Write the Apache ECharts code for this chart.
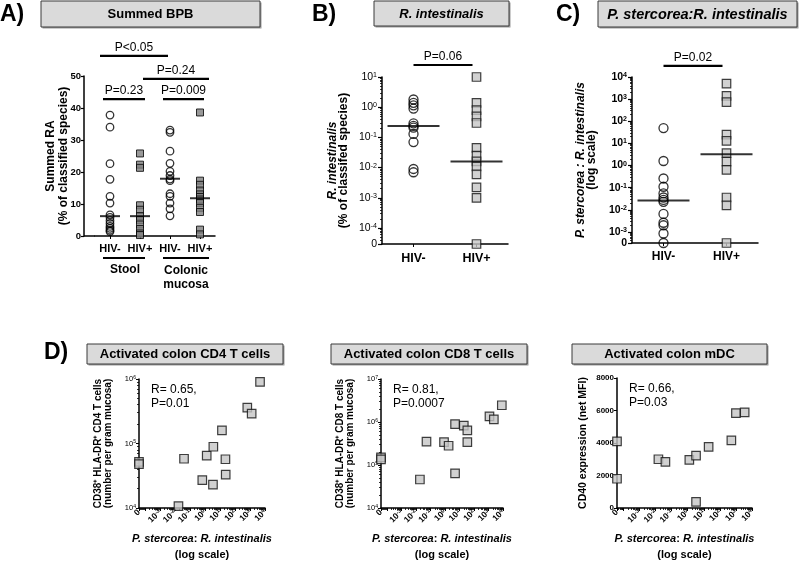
<!DOCTYPE html>
<html><head><meta charset="utf-8">
<script src="https://cdn.jsdelivr.net/npm/echarts@6/dist/echarts.min.js"></script>
<style>html,body{margin:0;padding:0;background:#fff}#c{width:800px;height:564px}</style>
</head><body><div id="c"></div>
<script>
// ---------------- data ----------------
const groupsA = ['HIV-', 'HIV+', 'HIV-', 'HIV+'];
const stoolNeg = [37.8, 34.0, 22.6, 17.7, 12.4, 10.3, 6.6, 5.8, 4.8, 3.9, 3.0, 2.4, 1.8, 1.4];
const stoolPos = [25.8, 22.3, 21.3, 9.6, 8.2, 6.2, 5.0, 3.6, 2.2, 0.8, 0.3];
const mucosaNeg = [33.1, 32.4, 26.5, 22.7, 20.2, 18.9, 17.8, 17.3, 13.2, 12.4, 10.3, 8.5, 6.3];
const mucosaPos = [38.6, 17.3, 16.0, 14.2, 13.0, 12.2, 11.4, 10.3, 8.8, 7.5, 2.0, 0.5];
const mediansA = [6.2, 6.2, 17.9, 11.8];
const ticksA = [0, 10, 20, 30, 40, 50];

const groupsBC = ['HIV-', 'HIV+'];
const riNeg = [1.8, 1.4, 1.15, 0.9, 0.29, 0.24, 0.21, 0.13, 0.07, 0.009, 0.007];
const riPos = [10, 1.4, 0.8, 0.5, 0.3, 0.045, 0.025, 0.016, 0.011, 0.006, 0.0022, 0.001, 0];
const mediansB = [0.24, 0.016];

const ratioNeg = [49, 1.6, 0.26, 0.11, 0.055, 0.036, 0.028, 0.023, 0.0065, 0.0026, 0.002, 0.00085, 0];
const ratioPos = [5000, 1400, 740, 25, 13, 3.6, 1.5, 0.63, 0.036, 0.016, 0];
const mediansC = [0.026, 3.2];

const d1Ratio = [0, 0, 0.04, 0.017, 0.66, 1.3, 3.6, 3.4, 13.5, 23, 24, 660, 1290, 4670];
const d1CD4 = [52000, 48000, 58000, 10700, 27000, 65000, 89000, 23000, 160000, 57000, 33000, 360000, 290000, 900000];
const d2Ratio = [0, 0, 0.054, 0.019, 0.87, 1.8, 5, 5, 20, 35, 35, 1170, 2340, 8300];
const d2CD8 = [150000, 135000, 350000, 46000, 340000, 280000, 890000, 64000, 820000, 640000, 340000, 1350000, 1150000, 2450000];
const d3Ratio = [0, 0, 0.015, 0.041, 1.26, 3.3, 3.3, 20, 520, 1000, 3500];
const d3CD40 = [4100, 1800, 3000, 2840, 2960, 3220, 380, 3760, 4160, 5840, 5890];

const sigA = [
  { a: 0, b: 2, y: 56.3, text: 'P<0.05' },
  { a: 1, b: 3, y: 49.1, text: 'P=0.24' },
  { a: 0, b: 1, y: 42.8, text: 'P=0.23' },
  { a: 2, b: 3, y: 42.8, text: 'P=0.009' }
];
const sigB = { y: 25, text: 'P=0.06' };
const sigC = { y: 31600, text: 'P=0.02' };
const corrTexts = ['R= 0.65,\nP=0.01', 'R= 0.81,\nP=0.0007', 'R= 0.66,\nP=0.03'];
const panelTitles = ['Summed BPB', 'R. intestinalis', 'P. stercorea:R. intestinalis',
  'Activated colon CD4 T cells', 'Activated colon CD8 T cells', 'Activated colon mDC'];

// ---------------- helpers ----------------
const FONT = 'Arial, "Liberation Sans", Helvetica, sans-serif';
function powRich(v) {
  const e = Math.log10(v);
  const r = Math.round(e);
  if (Math.abs(e - r) > 0.02) return '{b|0}';
  return '{b|10}{s|' + r + '}';
}
function richPow(size, weight) {
  return {
    b: { fontSize: size, fontWeight: weight, fontFamily: FONT, color: '#000' },
    s: { fontSize: Math.round(size * 0.68 * 10) / 10, fontWeight: weight, fontFamily: FONT, color: '#000', verticalAlign: 'top', lineHeight: size * 0.75 }
  };
}
const ZERO_B = Math.pow(10, -4.53);
const ZERO_C = Math.pow(10, -3.5);
const ZERO_D = Math.pow(10, -4.4);
const z = (v, zero) => (v === 0 ? zero : v);

const BLACK = '#000';
const axisLine = { show: true, onZero: false, lineStyle: { color: BLACK, width: 1.5 } };
const yTick = { show: true, inside: false, length: 4, lineStyle: { color: BLACK, width: 1.2 } };
const catTick = { show: true, alignWithLabel: true, length: 3, lineStyle: { color: BLACK, width: 1 } };
const minorTick = { show: true, splitNumber: 9, length: 2, lineStyle: { color: BLACK, width: 0.8 } };

const circleStyle = { color: 'rgba(255,255,255,0)', borderColor: BLACK, borderWidth: 1.3 };
const sqDark = { color: '#7f7f7f', borderColor: BLACK, borderWidth: 1 };
const sqLight = { color: '#c6c6c6', borderColor: '#111', borderWidth: 1.2 };

function sc(xi, yi, data, symbol, size, style, zz) {
  return { type: 'scatter', xAxisIndex: xi, yAxisIndex: yi, data: data, symbol: symbol,
    symbolSize: size, itemStyle: style, z: zz || 2, silent: true, clip: false };
}

const grids = [
  { left: 95, top: 76, width: 120, height: 160 },
  { left: 382, top: 77, width: 126, height: 167 },
  { left: 632, top: 77, width: 126, height: 166 },
  { left: 139, top: 379, width: 126, height: 139 },
  { left: 381, top: 379, width: 122, height: 139 },
  { left: 617, top: 378, width: 135, height: 139 }
];

const dxAxis = (gi) => ({
  type: 'log', gridIndex: gi, min: ZERO_D, max: 1e4, logBase: 10,
  axisLine: axisLine, axisTick: { show: true, length: 3, lineStyle: { color: BLACK, width: 1 } },
  minorTick: minorTick, splitLine: { show: false },
  axisLabel: { formatter: powRich, rotate: 45, margin: 3, showMinLabel: true, showMaxLabel: true, hideOverlap: false,
    rich: richPow(8.5, 'bold') },
  name: '{i|P. stercorea}{b|: }{i|R. intestinalis}\n{b|(log scale)}',
  nameLocation: 'middle', nameGap: 23, nameMoveOverlap: false,
  nameTextStyle: { color: BLACK, lineHeight: 16, rich: {
    i: { fontStyle: 'italic', fontWeight: 'bold', fontSize: 11, fontFamily: FONT, color: BLACK },
    b: { fontWeight: 'bold', fontSize: 11, fontFamily: FONT, color: BLACK } } }
});

const option = {
  animation: false,
  backgroundColor: '#fff',
  textStyle: { fontFamily: FONT },
  grid: grids,
  xAxis: [
    { type: 'category', gridIndex: 0, data: groupsA, boundaryGap: true, axisLine: axisLine, axisTick: catTick,
      axisLabel: { fontSize: 11, fontWeight: 'bold', color: BLACK, margin: 7, fontFamily: FONT, interval: 0 } },
    { type: 'category', gridIndex: 1, data: groupsBC, axisLine: axisLine, axisTick: catTick,
      axisLabel: { fontSize: 12.5, fontWeight: 'bold', color: BLACK, margin: 8, fontFamily: FONT } },
    { type: 'category', gridIndex: 2, data: groupsBC, axisLine: axisLine, axisTick: catTick,
      axisLabel: { fontSize: 12, fontWeight: 'bold', color: BLACK, margin: 8, fontFamily: FONT } },
    dxAxis(3), dxAxis(4), dxAxis(5)
  ],
  yAxis: [
    { type: 'value', gridIndex: 0, min: ticksA[0], max: ticksA[ticksA.length - 1], interval: 10, offset: 11,
      axisLine: axisLine, axisTick: { show: true, length: 3, lineStyle: { color: BLACK, width: 1.2 } }, splitLine: { show: false },
      axisLabel: { fontSize: 9.5, fontWeight: 'bold', color: BLACK, margin: 3, fontFamily: FONT },
      name: 'Summed RA\n(% of classified species)', nameLocation: 'middle', nameGap: 14, nameMoveOverlap: false,
      nameTextStyle: { fontSize: 12, fontWeight: 'bold', color: BLACK, lineHeight: 13, fontFamily: FONT } },
    { type: 'log', gridIndex: 1, min: ZERO_B, max: 10, logBase: 10,
      axisLine: axisLine, axisTick: yTick, minorTick: minorTick, splitLine: { show: false },
      axisLabel: { formatter: powRich, margin: 5, showMinLabel: true, rich: richPow(10.5, 'normal') },
      name: '{i|R. intestinalis}\n{b|(% of classifed species)}', nameLocation: 'middle', nameGap: 33, nameMoveOverlap: false,
      nameTextStyle: { color: BLACK, lineHeight: 11, rich: {
        i: { fontStyle: 'italic', fontWeight: 'bold', fontSize: 12, fontFamily: FONT, color: BLACK, lineHeight: 11 },
        b: { fontWeight: 'bold', fontSize: 12, fontFamily: FONT, color: BLACK, lineHeight: 11 } } } },
    { type: 'log', gridIndex: 2, min: ZERO_C, max: 1e4, logBase: 10,
      axisLine: axisLine, axisTick: yTick, minorTick: minorTick, splitLine: { show: false },
      axisLabel: { formatter: powRich, margin: 5, showMinLabel: true, rich: richPow(10.5, 'bold') },
      name: '{i|P. stercorea : R. intestinalis}\n{b|(log scale)}', nameLocation: 'middle', nameGap: 35, nameMoveOverlap: false,
      nameTextStyle: { color: BLACK, lineHeight: 11, rich: {
        i: { fontStyle: 'italic', fontWeight: 'bold', fontSize: 12, fontFamily: FONT, color: BLACK, lineHeight: 11 },
        b: { fontWeight: 'bold', fontSize: 12, fontFamily: FONT, color: BLACK, lineHeight: 11 } } } },
    { type: 'log', gridIndex: 3, min: 1e4, max: 1e6, logBase: 10,
      axisLine: axisLine, axisTick: { show: true, length: 3, lineStyle: { color: BLACK } }, minorTick: minorTick, splitLine: { show: false },
      axisLabel: { formatter: powRich, margin: 3, rich: richPow(7.5, 'normal') },
      name: 'CD38⁺ HLA-DR⁺ CD4 T cells\n(number per gram mucosa)', nameLocation: 'middle', nameGap: 26, nameMoveOverlap: false,
      nameTextStyle: { fontSize: 10, fontWeight: 'bold', color: BLACK, lineHeight: 10, fontFamily: FONT } },
    { type: 'log', gridIndex: 4, min: 1e4, max: 1e7, logBase: 10,
      axisLine: axisLine, axisTick: { show: true, length: 3, lineStyle: { color: BLACK } }, minorTick: minorTick, splitLine: { show: false },
      axisLabel: { formatter: powRich, margin: 3, rich: richPow(7.5, 'normal') },
      name: 'CD38⁺ HLA-DR⁺ CD8 T cells\n(number per gram mucosa)', nameLocation: 'middle', nameGap: 26, nameMoveOverlap: false,
      nameTextStyle: { fontSize: 10, fontWeight: 'bold', color: BLACK, lineHeight: 10, fontFamily: FONT } },
    { type: 'value', gridIndex: 5, min: 0, max: 8000, interval: 2000,
      axisLine: axisLine, axisTick: { show: true, length: 3, lineStyle: { color: BLACK } }, splitLine: { show: false },
      axisLabel: { formatter: v => String(v), fontSize: 8, fontWeight: 'bold', color: BLACK, margin: 3, fontFamily: FONT },
      name: 'CD40 expression (net MFI)', nameLocation: 'middle', nameGap: 28, nameMoveOverlap: false,
      nameTextStyle: { fontSize: 10.5, fontWeight: 'bold', color: BLACK, fontFamily: FONT } }
  ],
  series: [
    sc(0, 0, stoolNeg.map(v => [0, v]), 'circle', 7.5, circleStyle),
    sc(0, 0, stoolPos.map(v => [1, v]), 'rect', 7, sqDark),
    sc(0, 0, mucosaNeg.map(v => [2, v]), 'circle', 7.5, circleStyle),
    sc(0, 0, mucosaPos.map(v => [3, v]), 'rect', 7, sqDark),
    sc(0, 0, mediansA.map((v, i) => [i, v]), 'rect', [20, 2], { color: BLACK }, 5),

    sc(1, 1, riNeg.map(v => [0, z(v, ZERO_B)]), 'circle', 9, circleStyle),
    sc(1, 1, riPos.map(v => [1, z(v, ZERO_B)]), 'rect', 8.5, sqLight),
    sc(1, 1, mediansB.map((v, i) => [i, v]), 'rect', [52, 2], { color: BLACK }, 5),

    sc(2, 2, ratioNeg.map(v => [0, z(v, ZERO_C)]), 'circle', 9, circleStyle),
    sc(2, 2, ratioPos.map(v => [1, z(v, ZERO_C)]), 'rect', 8.5, sqLight),
    sc(2, 2, mediansC.map((v, i) => [i, v]), 'rect', [52, 2], { color: BLACK }, 5),

    sc(3, 3, d1Ratio.map((v, i) => [z(v, ZERO_D), d1CD4[i]]), 'rect', 8.5, sqLight),
    sc(4, 4, d2Ratio.map((v, i) => [z(v, ZERO_D), d2CD8[i]]), 'rect', 8.5, sqLight),
    sc(5, 5, d3Ratio.map((v, i) => [z(v, ZERO_D), d3CD40[i]]), 'rect', 8.5, sqLight)
  ]
};

const chart = echarts.init(document.getElementById('c'), null, { renderer: 'canvas' });
chart.setOption(option);

// ---------------- annotations (positions derived via the chart's scales) ----------------
const g = [];
const px = (gi, pt) => chart.convertToPixel({ gridIndex: gi }, pt);
function bar(x1, x2, y, text) {
  g.push({ type: 'line', shape: { x1: x1, y1: y, x2: x2, y2: y }, style: { stroke: BLACK, lineWidth: 2.2 }, z: 10 });
  if (text) g.push({ type: 'text', x: (x1 + x2) / 2, y: y - 2, z: 10,
    style: { text: text, fontSize: 12, fontFamily: FONT, fill: BLACK, align: 'center', verticalAlign: 'bottom' } });
}
const offA = [[-10, -2], [3, 9], [-7, 5], [-7, 4]];
sigA.forEach((s, k) => {
  const pa = px(0, [s.a, s.y]), pb = px(0, [s.b, s.y]);
  bar(pa[0] + offA[k][0], pb[0] + offA[k][1], pa[1], s.text);
});
{
  const pa = px(1, [0, sigB.y]), pb = px(1, [1, sigB.y]);
  bar(pa[0], pb[0] - 4, pa[1], sigB.text);
  const qa = px(2, [0, sigC.y]), qb = px(2, [1, sigC.y]);
  bar(qa[0], qb[0] - 4, qa[1], sigC.text);
}
// x-axis extension in A (from offset y-axis to grid)
{
  const o = px(0, [0, 0]);
  g.push({ type: 'line', shape: { x1: grids[0].left - 11, y1: o[1], x2: grids[0].left, y2: o[1] }, style: { stroke: BLACK, lineWidth: 1.5 } });
  // group labels
  const c0 = px(0, [0, 0])[0], c1 = px(0, [1, 0])[0], c2 = px(0, [2, 0])[0], c3 = px(0, [3, 0])[0];
  const yl = o[1] + 22;
  bar(c0 - 7, c1 + 5, yl, null);
  bar(c2 - 7, c3 + 9, yl, null);
  g.push({ type: 'text', x: (c0 + c1) / 2, y: yl + 6, style: { text: 'Stool', fontSize: 12, fontWeight: 'bold', fontFamily: FONT, fill: BLACK, align: 'center', verticalAlign: 'top' } });
  g.push({ type: 'text', x: (c2 + c3) / 2 + 1, y: yl + 6, style: { text: 'Colonic\nmucosa', fontSize: 12, fontWeight: 'bold', fontFamily: FONT, fill: BLACK, align: 'center', verticalAlign: 'top', lineHeight: 14 } });
}
// title boxes
const boxes = [
  [41, 1, 219, 26, 13, 'normal'], [374, 1, 135, 25, 13, 'italic'], [598, 1, 199, 26, 14.5, 'italic'],
  [87, 344, 196, 20, 13, 'normal'], [331, 344, 196, 20, 13, 'normal'], [572, 344, 195, 20, 13, 'normal']
];
boxes.forEach((b, i) => {
  g.push({ type: 'rect', shape: { x: b[0] + 1.5, y: b[1] + 1.5, width: b[2], height: b[3] }, style: { fill: '#9a9a9a' }, z: 1 });
  g.push({ type: 'rect', shape: { x: b[0], y: b[1], width: b[2], height: b[3] }, style: { fill: '#dadada', stroke: '#3a3a3a', lineWidth: 1 }, z: 2 });
  g.push({ type: 'text', x: b[0] + b[2] / 2, y: b[1] + b[3] / 2 + 0.5, z: 3,
    style: { text: panelTitles[i], fontSize: b[4], fontWeight: 'bold', fontStyle: b[5], fontFamily: FONT, fill: BLACK, align: 'center', verticalAlign: 'middle' } });
});
// panel letters
[['A)', 0, 15], ['B)', 312, 15], ['C)', 556, 15], ['D)', 44, 353]].forEach(l => {
  g.push({ type: 'text', x: l[1], y: l[2], style: { text: l[0], fontSize: 23, fontWeight: 'bold', fontFamily: FONT, fill: BLACK, align: 'left', verticalAlign: 'middle' } });
});
// correlation texts
[3, 4, 5].forEach((gi, k) => {
  g.push({ type: 'text', x: grids[gi].left + 12, y: grids[gi].top + 4, style: { text: corrTexts[k], fontSize: 12, fontFamily: FONT, fill: BLACK, align: 'left', verticalAlign: 'top', lineHeight: 14 } });
});
chart.setOption({ graphic: g });
</script>
</body></html>
